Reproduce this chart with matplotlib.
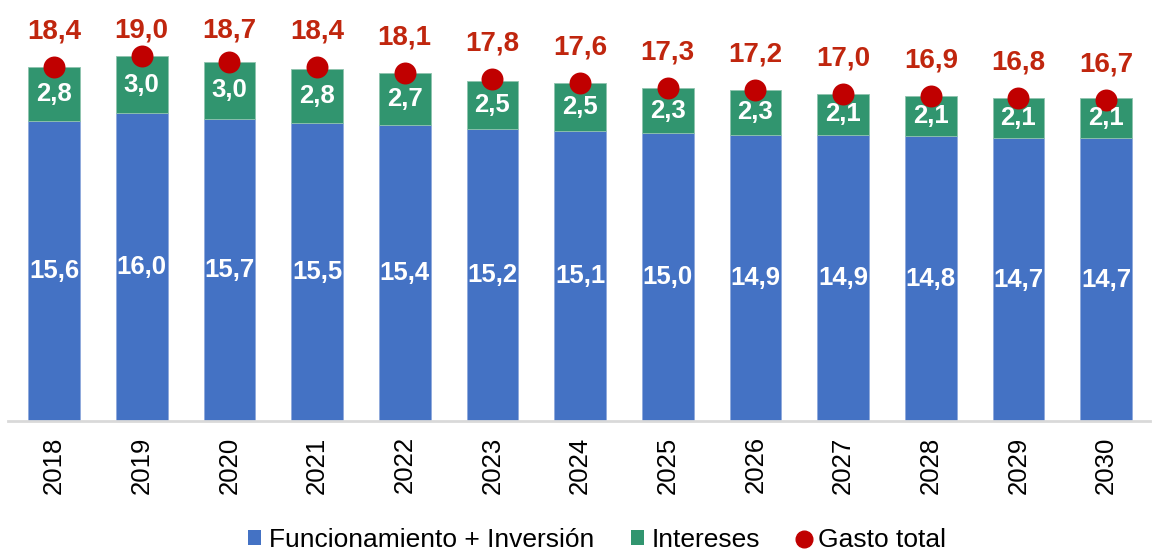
import matplotlib
matplotlib.use("Agg")
import matplotlib.pyplot as plt
from matplotlib.lines import Line2D
from matplotlib.patches import Patch

years = ["2018", "2019", "2020", "2021", "2022", "2023", "2024",
         "2025", "2026", "2027", "2028", "2029", "2030"]
funcionamiento = [15.6, 16.0, 15.7, 15.5, 15.4, 15.2, 15.1, 15.0, 14.9, 14.9, 14.8, 14.7, 14.7]
intereses = [2.8, 3.0, 3.0, 2.8, 2.7, 2.5, 2.5, 2.3, 2.3, 2.1, 2.1, 2.1, 2.1]
gasto_total = [18.4, 19.0, 18.7, 18.4, 18.1, 17.8, 17.6, 17.3, 17.2, 17.0, 16.9, 16.8, 16.7]

BLUE = "#4472C4"
GREEN = "#31956F"
RED = "#C00000"
RED_TXT = "#C0260E"

plt.rcParams['font.family'] = ['Liberation Sans', 'DejaVu Sans']

fig = plt.figure(figsize=(11.7, 5.52), dpi=100)
ax = fig.add_axes([8/1170, (552-421)/552, 1142/1170, 421/552])

x = list(range(len(years)))
w = 0.59
ax.bar(x, funcionamiento, width=w, color=BLUE, edgecolor="#8FA9DC", linewidth=0.6, zorder=2)
ax.bar(x, intereses, width=w, bottom=funcionamiento, color=GREEN, edgecolor="#8FC4AE", linewidth=0.6, zorder=2)
ax.scatter(x, gasto_total, s=250, color=RED, zorder=4, linewidths=0)

def fmt(v):
    return f"{v:.1f}".replace(".", ",")

YMAX = 21.9
for i in x:
    ax.text(i, funcionamiento[i] / 2, fmt(funcionamiento[i]), ha="center", va="center",
            color="white", fontsize=18.5, fontweight="bold", zorder=5)
    ax.text(i, funcionamiento[i] + intereses[i] / 2, fmt(intereses[i]), ha="center", va="center",
            color="white", fontsize=18.5, fontweight="bold", zorder=5)
    ly = min(gasto_total[i] + 2.0, YMAX - 1.45)
    ax.text(i, ly, fmt(gasto_total[i]), ha="center", va="center_baseline",
            color=RED_TXT, fontsize=20, fontweight="bold", zorder=5)

ax.set_xlim(-0.525, 12.5)
ax.set_ylim(0, YMAX)
ax.set_xticks(x)
ax.set_xticklabels(years, rotation=90, fontsize=18.5)
ax.tick_params(axis="x", length=0, pad=11)
ax.set_yticks([])
for s in ["top", "right", "left"]:
    ax.spines[s].set_visible(False)
ax.spines["bottom"].set_color("#D9D9D9")
ax.spines["bottom"].set_linewidth(2)

handles = [
    Patch(facecolor=BLUE, edgecolor="none", label="Funcionamiento + Inversión"),
    Patch(facecolor=GREEN, edgecolor="none", label="Intereses"),
    Line2D([], [], marker="o", linestyle="none", markersize=12, color=RED, label="Gasto total"),
]
fig.legend(handles=handles, loc="center", bbox_to_anchor=(597/1170, 12/552), ncol=3,
           frameon=False, fontsize=19, handlelength=0.5, handleheight=0.5, handletextpad=0.3,
           columnspacing=1.4)

fig.savefig("out.png", dpi=100)
